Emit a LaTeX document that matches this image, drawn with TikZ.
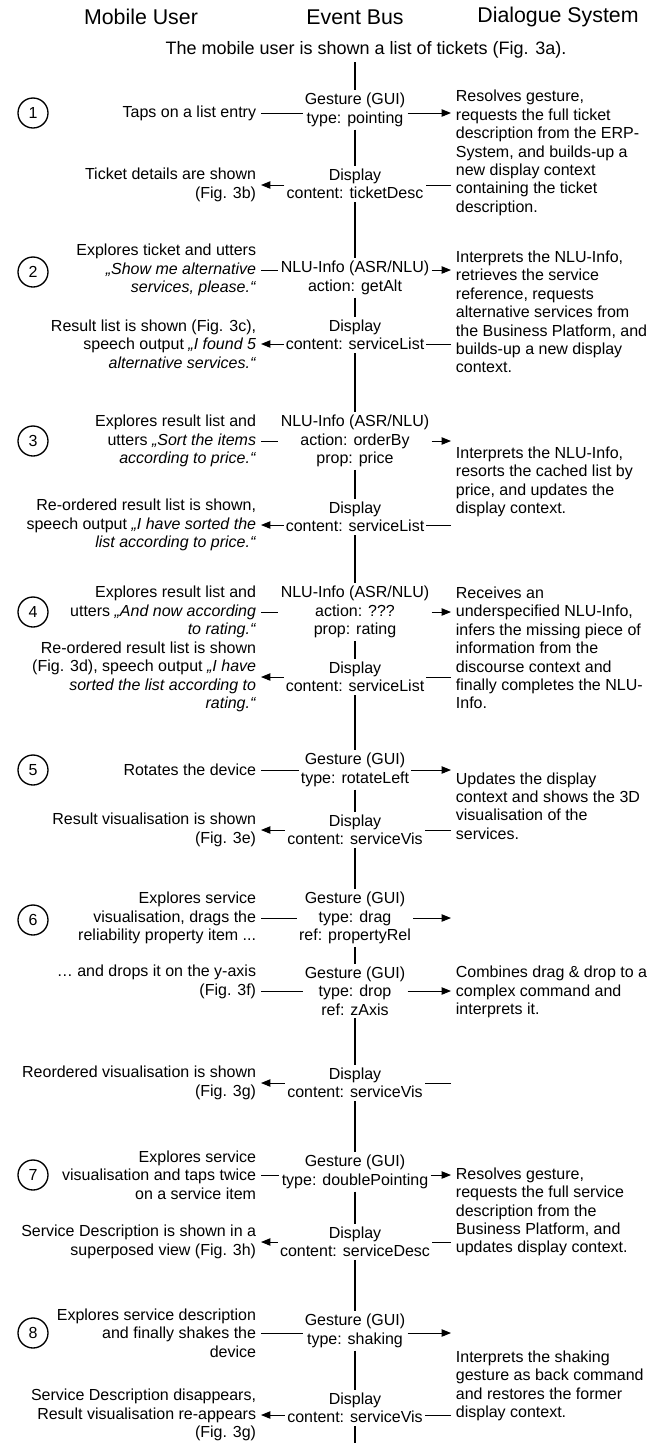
\documentclass[tikz,border=0pt]{standalone}
\usepackage{fontspec}
\setmainfont{Liberation Sans}
\usetikzlibrary{arrows.meta,positioning}

\begin{document}
\begin{tikzpicture}[
    x=0.75pt, y=-0.75pt,
    every node/.style={font=\fontsize{12}{13.8}\selectfont, inner sep=1.5pt},
    header/.style={font=\fontsize{16}{19}\selectfont},
    user/.style={anchor=east, align=right, inner xsep=3.5pt},
    dialog/.style={anchor=west, align=left, inner xsep=3.5pt},
    bus/.style={align=center, inner ysep=2pt},
    stepnum/.style={circle, draw, line width=1pt, minimum size=22.5pt, inner sep=0pt},
    busline/.style={line width=1.3pt},
    line/.style={line width=0.75pt},
    arrow/.style={line width=0.75pt, -{Triangle[length=7pt,width=5.5pt]}},
]

\useasboundingbox (0,0) rectangle (660,1443);

% Column headers
\node[header] (hUser) at (141,17) {Mobile User};
\node[header] (hBus) at (355,17) {Event Bus};
\node[header] (hDia) at (558,17) {Dialogue System};

\node[font=\fontsize{13.5}{16}\selectfont] (intro) at (366,50) {The mobile user is shown a list of tickets (Fig. 3a).};
\coordinate (busTop) at (355,62);
\coordinate (busEnd) at (355,1443);

% Step 1
\node[stepnum] (n1) at (33,113) {1};
\node[user] (u1) at (261,113) {Taps on a list entry};
\node[bus] (e1) at (355,110) {Gesture (GUI)\\type: pointing};
\node[dialog] (s1) at (451,153) {Resolves gesture,\\requests the full ticket\\description from the ERP-\\System, and builds-up a\\new display context\\containing the ticket\\description.};
\node[bus] (d1) at (355,184) {Display\\content: ticketDesc};
\node[user] (v1) at (261,185) {Ticket details are shown\\(Fig. 3b)};

% Step 2
\node[stepnum] (n2) at (33,272) {2};
\node[user] (u2) at (261,270) {Explores ticket and utters\\\textit{„Show me alternative}\\\textit{services, please.“}};
\node[bus] (e2) at (355,278) {NLU-Info (ASR/NLU)\\action: getAlt};
\node[dialog] (s2) at (451,312) {Interprets the NLU-Info,\\retrieves the service\\reference, requests\\alternative services from\\the Business Platform, and\\builds-up a new display\\context.};
\node[bus] (d2) at (355,335) {Display\\content: serviceList};
\node[user] (v2) at (261,344) {Result list is shown (Fig. 3c),\\speech output \textit{„I found 5}\\\textit{alternative services.“}};

% Step 3
\node[stepnum] (n3) at (33,441) {3};
\node[user] (u3) at (261,441) {Explores result list and\\utters \textit{„Sort the items}\\\textit{according to price.“}};
\node[bus] (e3) at (355,441) {NLU-Info (ASR/NLU)\\action: orderBy\\prop: price};
\node[dialog] (s3) at (451,482) {Interprets the NLU-Info,\\resorts the cached list by\\price, and updates the\\display context.};
\node[bus] (d3) at (355,517) {Display\\content: serviceList};
\node[user] (v3) at (261,525) {Re-ordered result list is shown,\\speech output \textit{„I have sorted the}\\\textit{list according to price.“}};

% Step 4
\node[stepnum] (n4) at (33,612) {4};
\node[user] (u4) at (261,612) {Explores result list and\\utters \textit{„And now according}\\\textit{to rating.“}};
\node[bus] (e4) at (355,612) {NLU-Info (ASR/NLU)\\action: ???\\prop: rating};
\node[dialog] (s4) at (451,648) {Receives an\\underspecified NLU-Info,\\infers the missing piece of\\information from the\\discourse context and\\finally completes the NLU-\\Info.};
\node[bus] (d4) at (355,677) {Display\\content: serviceList};
\node[user] (v4) at (261,677) {Re-ordered result list is shown\\(Fig. 3d), speech output \textit{„I have}\\\textit{sorted the list according to}\\\textit{rating.“}};

% Step 5
\node[stepnum] (n5) at (33,770) {5};
\node[user] (u5) at (261,770) {Rotates the device};
\node[bus] (e5) at (355,770) {Gesture (GUI)\\type: rotateLeft};
\node[dialog] (s5) at (451,806) {Updates the display\\context and shows the 3D\\visualisation of the\\services.};
\node[bus] (d5) at (355,830) {Display\\content: serviceVis};
\node[user] (v5) at (261,830) {Result visualisation is shown\\(Fig. 3e)};

% Step 6 (drag and drop)
\node[stepnum] (n6) at (33,920) {6};
\node[user] (u6a) at (261,918) {Explores service\\visualisation, drags the\\reliability property item ...};
\node[bus] (e6a) at (355,918) {Gesture (GUI)\\type: drag\\ref: propertyRel};
\node[user] (u6b) at (261,982) {\dots{} and drops it on the y-axis\\(Fig. 3f)};
\node[bus] (e6b) at (355,991) {Gesture (GUI)\\type: drop\\ref: zAxis};
\node[dialog] (s6) at (451,992) {Combines drag \& drop to a\\complex command and\\interprets it.};
\node[bus] (d6) at (355,1083) {Display\\content: serviceVis};
\node[user] (v6) at (261,1083) {Reordered visualisation is shown\\(Fig. 3g)};

% Step 7
\node[stepnum] (n7) at (33,1175) {7};
\node[user] (u7) at (261,1175) {Explores service\\visualisation and taps twice\\on a service item};
\node[bus] (e7) at (355,1172) {Gesture (GUI)\\type: doublePointing};
\node[dialog] (s7) at (451,1212) {Resolves gesture,\\requests the full service\\description from the\\Business Platform, and\\updates display context.};
\node[bus] (d7) at (355,1242) {Display\\content: serviceDesc};
\node[user] (v7) at (261,1242) {Service Description is shown in a\\superposed view (Fig. 3h)};

% Step 8
\node[stepnum] (n8) at (33,1333) {8};
\node[user] (u8) at (261,1333) {Explores service description\\and finally shakes the\\device};
\node[bus] (e8) at (355,1331) {Gesture (GUI)\\type: shaking};
\node[dialog] (s8) at (451,1386) {Interprets the shaking\\gesture as back command\\and restores the former\\display context.};
\node[bus] (d8) at (355,1408) {Display\\content: serviceVis};
\node[user] (v8) at (261,1415) {Service Description disappears,\\Result visualisation re-appears\\(Fig. 3g)};

% Event bus
\draw[busline] (busTop) -- (e1) -- (d1) -- (e2) -- (d2) -- (e3) -- (d3) -- (e4) -- (d4)
    -- (e5) -- (d5) -- (e6a) -- (e6b) -- (d6) -- (e7) -- (d7) -- (e8) -- (d8) -- (busEnd);

% User -> bus -> dialogue system
\foreach \e/\u/\s in {e1/u1/s1, e2/u2/s2, e3/u3/s3, e4/u4/s4, e5/u5/s5, e6a/u6a/s6, e7/u7/s7, e8/u8/s8} {
    \draw[line] (\u.east) -- (\u.east -| \e.west);
    \draw[arrow] (\e.east |- \u.east) -- (\s.west |- \u.east);
}
\draw[line] (e6b.west -| u6b.east) -- (e6b.west);
\draw[arrow] (e6b.east) -- (e6b.east -| s6.west);

% Dialogue system -> bus -> user
\foreach \d/\v/\s in {d1/v1/s1, d2/v2/s2, d3/v3/s3, d4/v4/s4, d5/v5/s5, d6/v6/s6, d7/v7/s7, d8/v8/s8} {
    \draw[line] (\s.west |- \v.east) -- (\d.east |- \v.east);
    \draw[arrow] (\d.west |- \v.east) -- (\v.east);
}

\end{tikzpicture}
\end{document}
